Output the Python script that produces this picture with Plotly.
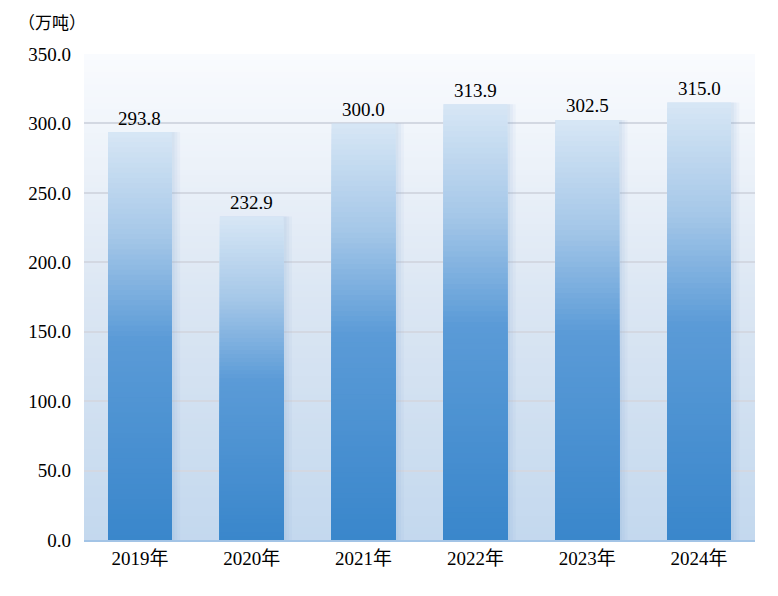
import plotly.graph_objects as go

categories = ["2019年", "2020年", "2021年", "2022年", "2023年", "2024年"]
values = [293.8, 232.9, 300.0, 313.9, 302.5, 315.0]
labels = ["293.8", "232.9", "300.0", "313.9", "302.5", "315.0"]
y_ticks = [0, 50, 100, 150, 200, 250, 300, 350]
unit_label = "（万吨）"

SERIF = "'Liberation Serif', 'Times New Roman', 'Noto Sans CJK SC', serif"


def lerp(c1, c2, t):
    return tuple(round(a + (b - a) * t) for a, b in zip(c1, c2))


def hexrgb(h):
    h = h.lstrip("#")
    return tuple(int(h[i:i + 2], 16) for i in (0, 2, 4))


def grad(stops, f):
    for (f0, c0), (f1, c1) in zip(stops, stops[1:]):
        if f0 <= f <= f1:
            t = 0 if f1 == f0 else (f - f0) / (f1 - f0)
            return "rgb(%d,%d,%d)" % lerp(hexrgb(c0), hexrgb(c1), t)
    return "rgb(%d,%d,%d)" % hexrgb(stops[-1][1])


# bar gradient: f = 0 at bottom, 1 at top
bar_stops = [(0.0, "#3986cb"), (0.5, "#5b9bd7"), (0.75, "#a5c7e8"), (1.0, "#d6e6f5")]
bg_stops = [(0.0, "#c3d8ee"), (0.5, "#dbe6f3"), (1.0, "#f9fbfe")]

BW = 0.57
fig = go.Figure()

# soft shadow to the right of each bar
for ext, alpha in [(0.075, 0.06), (0.05, 0.07), (0.025, 0.08)]:
    fig.add_trace(go.Bar(
        x=categories, y=values, width=BW + ext, offset=-BW / 2,
        marker=dict(color="rgba(120,160,210,%.2f)" % alpha, line=dict(width=0)),
        hoverinfo="skip", showlegend=False,
    ))

N = 80
for i in range(N):
    h = (N - i) / N
    fig.add_trace(go.Bar(
        x=categories, y=[v * h for v in values], width=BW, offset=-BW / 2,
        marker=dict(color=grad(bar_stops, h), line=dict(width=0)),
        hoverinfo="skip", showlegend=False,
    ))

shapes = []
M = 80
for i in range(M):
    t = (M - i) / M
    shapes.append(dict(
        type="rect", xref="x domain", yref="y domain",
        x0=0, x1=1, y0=0, y1=t, layer="below",
        line=dict(width=0), fillcolor=grad(bg_stops, t),
    ))

annotations = [dict(
    text=unit_label, xref="paper", yref="paper", x=-0.047, y=1.0,
    yshift=33, xanchor="center", yanchor="middle", showarrow=False,
    font=dict(family="'Noto Sans CJK SC', sans-serif", size=17, color="#000000"),
)]
for c, v, t in zip(categories, values, labels):
    annotations.append(dict(
        x=c, y=v, xref="x", yref="y", text=t, showarrow=False,
        xanchor="center", yanchor="middle", yshift=14,
        font=dict(family=SERIF, size=19, color="#000000"),
    ))

# page body has an 8px margin: figure is 770x588, drawn at (8,8)
fig.update_layout(
    width=770, height=588,
    margin=dict(l=76, r=23, t=46, b=56),
    paper_bgcolor="white", plot_bgcolor="white",
    barmode="overlay",
    shapes=shapes,
    font=dict(family=SERIF, size=19, color="#000000"),
    annotations=annotations,
)
fig.update_xaxes(
    showgrid=False, showline=True, linecolor="#a3c4e6", linewidth=2,
    ticks="", tickfont=dict(family=SERIF, size=19),
)
fig.update_yaxes(
    range=[0, 350], tickvals=y_ticks, ticktext=["%.1f" % v for v in y_ticks],
    showgrid=True, gridcolor="#d3d8e2", gridwidth=2, zeroline=False,
    showline=False, ticks="", ticklabelstandoff=12,
    tickfont=dict(family=SERIF, size=19),
)

fig.write_html("out.html")
